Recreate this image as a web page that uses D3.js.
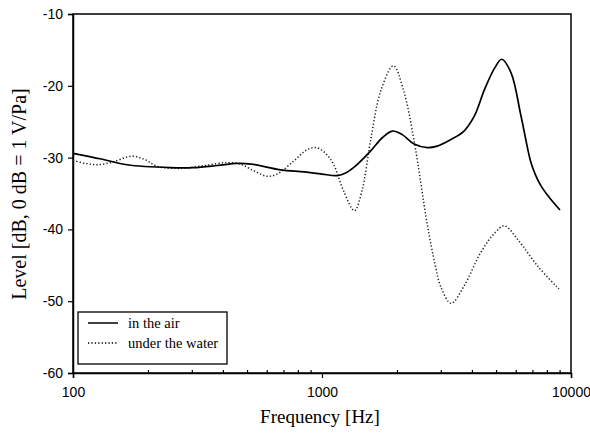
<!DOCTYPE html>
<html>
<head>
<meta charset="utf-8">
<script src="https://cdn.jsdelivr.net/npm/d3@7"></script>
<style>
  html, body { margin: 0; padding: 0; background: #fff; }
  svg { display: block; }
</style>
</head>
<body>
<svg id="chart" width="590" height="441"></svg>
<script>
// ---- data ----
const airFreq = [100,130,165,246,304,380,456,520,680,850,1000,1150,1250,1350,1566,1750,1916,2100,2344,2647,2900,3285,3718,4093,4496,4940,5268,5745,6298,6880,7200,7566,8200,9031];
const airLevel = [-29.4,-30.2,-31.0,-31.4,-31.4,-31.1,-30.8,-30.9,-31.7,-32.0,-32.3,-32.5,-32.1,-31.3,-29.1,-27.2,-26.3,-26.8,-28.1,-28.6,-28.4,-27.5,-26.3,-24.2,-20.5,-17.5,-16.3,-18.2,-24.2,-30.5,-32.4,-33.9,-35.6,-37.3];
const waterFreq = [100,112,125,145,172,195,217,270,340,415,469,530,602,660,769,870,950,1040,1115,1223,1350,1450,1566,1722,1936,2128,2344,2647,2850,3000,3300,3718,4344,4940,5400,6110,7345,8940];
const waterLevel = [-30.4,-30.8,-31.0,-30.6,-29.8,-30.3,-31.2,-31.5,-31.1,-30.7,-30.9,-31.8,-32.6,-32.3,-30.5,-28.9,-28.6,-29.5,-31.0,-34.7,-37.4,-34.5,-27.7,-20.7,-17.2,-20.7,-27.7,-39.3,-45.0,-48.0,-50.3,-47.9,-43.2,-40.5,-39.5,-41.4,-45.1,-48.3];
const seriesNames = ["in the air", "under the water"];
const xMajorTicks = [100, 1000, 10000];
const xMinorTicks = [200,300,400,500,600,700,800,900,2000,3000,4000,5000,6000,7000,8000,9000];
const yTicks = [-60,-50,-40,-30,-20,-10];
const xTitle = "Frequency [Hz]";
const yTitle = "Level [dB, 0 dB = 1 V/Pa]";

// ---- layout ----
const W = 590, H = 441;
const m = {left: 73, right: 19, top: 14, bottom: 68};
const pw = W - m.left - m.right, ph = H - m.top - m.bottom;

const svg = d3.select("#chart");
const g = svg.append("g").attr("transform", `translate(${m.left},${m.top})`);

const x = d3.scaleLog().domain([100, 10000]).range([0, pw]);
const y = d3.scaleLinear().domain([-60, -10]).range([ph, 0]);

const sansFont = "'Liberation Sans', Arial, sans-serif";
const serifFont = "'Liberation Serif', 'Times New Roman', serif";

// x axis major (outward)
g.append("g").attr("transform", `translate(0,${ph})`)
  .call(d3.axisBottom(x).tickValues(xMajorTicks).tickFormat(d3.format("d")).tickSize(5).tickPadding(9));
// minor ticks (inward)
g.append("g").attr("transform", `translate(0,${ph})`)
  .call(d3.axisBottom(x).tickValues(xMinorTicks).tickFormat("").tickSize(-3))
  .call(s => s.select(".domain").remove());

// y axis
g.append("g")
  .call(d3.axisLeft(y).tickValues(yTicks).tickFormat(d => String(d)).tickSize(5).tickPadding(5));

svg.selectAll(".tick text").attr("font-family", sansFont).attr("font-size", 14).attr("fill", "#000");
svg.selectAll(".tick line").attr("stroke", "#000").attr("stroke-width", 1.2);
svg.selectAll(".domain").attr("stroke", "#000").attr("stroke-width", 1.5);

// frame
g.append("rect").attr("x", 0).attr("y", 0).attr("width", pw).attr("height", ph)
  .attr("fill", "none").attr("stroke", "#000").attr("stroke-width", 1.5);

// lines
const line = d3.line().curve(d3.curveCatmullRom.alpha(0.5))
  .x(d => x(d[0])).y(d => y(d[1]));

const airData = airFreq.map((f, i) => [f, airLevel[i]]);
const waterData = waterFreq.map((f, i) => [f, waterLevel[i]]);

g.append("path").datum(waterData).attr("d", line)
  .attr("fill", "none").attr("stroke", "#222").attr("stroke-width", 1.5)
  .attr("stroke-dasharray", "1.3,2.1");
g.append("path").datum(airData).attr("d", line)
  .attr("fill", "none").attr("stroke", "#000").attr("stroke-width", 1.7);

// legend
const lg = svg.append("g").attr("transform", "translate(78,312)");
lg.append("rect").attr("width", 149).attr("height", 52)
  .attr("fill", "#fff").attr("stroke", "#000").attr("stroke-width", 1.3);
const dashes = [null, "1.3,2.1"];
seriesNames.forEach((name, i) => {
  const yy = 11 + i * 20;
  lg.append("line").attr("x1", 10).attr("x2", 40).attr("y1", yy).attr("y2", yy)
    .attr("stroke", "#000").attr("stroke-width", i ? 1.4 : 1.5)
    .attr("stroke-dasharray", dashes[i]);
  lg.append("text").attr("x", 50).attr("y", yy + 5).text(name)
    .attr("font-family", serifFont).attr("font-size", 14.5).attr("fill", "#000");
});

// titles
svg.append("text").attr("x", m.left + pw / 2 - 2).attr("y", 423)
  .attr("text-anchor", "middle").attr("font-family", serifFont).attr("font-size", 19)
  .text(xTitle);
svg.append("text").attr("transform", "translate(26,194) rotate(-90)")
  .attr("text-anchor", "middle").attr("font-family", serifFont).attr("font-size", 20)
  .text(yTitle);
</script>
</body>
</html>
